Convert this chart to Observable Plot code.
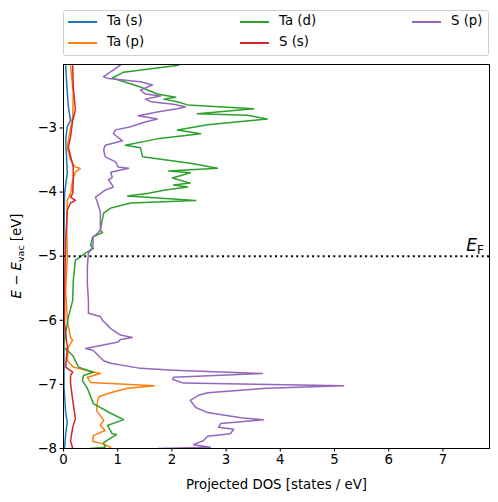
<!DOCTYPE html>
<html>
<head>
<meta charset="utf-8">
<script src="https://cdn.jsdelivr.net/npm/d3@7"></script>
<script src="https://cdn.jsdelivr.net/npm/@observablehq/plot@0.6"></script>
<style>
  html, body { margin: 0; padding: 0; background: #fff; }
  body { width: 498px; height: 502px; position: relative; font-family: "DejaVu Sans", sans-serif; }
  #legend { position: absolute; left: 63px; top: 10px; width: 424px; height: 44px; border: 1px solid #d0d0d0; border-radius: 3px; background: rgba(255,255,255,0.8); }
  .entry { position: absolute; font-size: 13.3px; color: #000; white-space: nowrap; }
  .swatch { position: absolute; height: 2px; width: 29px; }
  #chart { position: absolute; left: 0; top: 60px; }
</style>
</head>
<body>
<div id="legend"></div>
<div id="chart"></div>
<script>
// Series names and colours
const seriesNames = ["Ta (s)", "Ta (p)", "Ta (d)", "S (s)", "S (p)"];
const seriesColors = ["#1f77b4", "#ff7f0e", "#2ca02c", "#d62728", "#9467bd"];

// Ta (s)
const taS_E = [-2.03,-2.45,-2.67,-2.88,-2.98,-3.19,-3.70,-4.02,-4.91,-6.16,-7.05,-7.45,-7.59,-7.77,-8.0];
const taS_D = [0.04,0.07,0.09,0.13,0.07,0.04,0.07,0.02,0.005,0.01,0.01,0.04,0.07,0.04,0.02];

// Ta (p)
const taP_E = [-2.03,-2.45,-2.83,-3.19,-3.30,-3.50,-3.61,-3.63,-3.69,-3.81,-4.02,-4.13,-4.48,-5.02,-5.53,-6.0,-6.27,-6.31,-6.42,-6.63,-6.73,-6.78,-6.83,-6.89,-6.97,-7.02,-7.06,-7.13,-7.19,-7.25,-7.41,-7.56,-7.64,-7.72,-7.80,-7.89,-7.92,-7.98];
const taP_D = [0.13,0.18,0.17,0.09,0.07,0.13,0.22,0.31,0.22,0.17,0.13,0.07,0.06,0.07,0.04,0.07,0.13,0.17,0.09,0.07,0.18,0.41,0.68,0.44,0.50,1.68,1.18,0.87,0.66,0.63,0.61,0.74,0.68,0.77,0.55,0.54,0.70,0.87];

// Ta (d)
const taD_E = [-2.02,-2.13,-2.22,-2.36,-2.47,-2.52,-2.55,-2.59,-2.64,-2.70,-2.78,-2.80,-2.86,-2.95,-3.03,-3.09,-3.17,-3.27,-3.31,-3.45,-3.55,-3.63,-3.67,-3.70,-3.78,-3.86,-3.89,-3.92,-3.97,-4.02,-4.06,-4.13,-4.17,-4.22,-4.25,-4.33,-4.59,-4.63,-4.70,-4.83,-4.88,-4.95,-5.03,-5.06,-5.38,-5.69,-5.95,-6.20,-6.42,-6.47,-6.55,-6.73,-6.81,-6.86,-6.94,-7.02,-7.06,-7.30,-7.45,-7.55,-7.64,-7.77,-7.78,-7.84,-7.91,-7.98,-8.0];
const taD_D = [2.12,1.11,0.90,1.42,1.73,2.07,1.85,2.10,2.29,3.51,2.47,3.39,3.76,2.66,2.10,2.53,1.73,1.14,1.42,1.46,2.34,2.84,1.94,2.34,2.01,2.34,2.03,2.29,1.85,1.57,1.18,2.44,1.24,1.00,0.87,0.74,0.68,0.72,0.54,0.50,0.55,0.41,0.28,0.22,0.18,0.17,0.09,0.04,0.00,0.07,0.17,0.28,0.55,0.37,0.35,0.41,0.44,0.55,0.87,1.11,0.81,0.90,0.98,0.87,0.74,0.77,0.50];

// S (s)
const sS_E = [-2.03,-2.36,-2.72,-2.88,-3.14,-3.30,-3.61,-3.81,-4.02,-4.08,-4.13,-4.17,-4.28,-4.75,-5.53,-6.05,-6.42,-6.73,-6.81,-6.86,-6.98,-7.25,-7.53,-7.67,-7.88,-8.0];
const sS_D = [0.17,0.18,0.22,0.17,0.13,0.09,0.18,0.18,0.17,0.13,0.22,0.13,0.07,0.04,0.02,0.02,0.07,0.04,0.17,0.13,0.13,0.17,0.22,0.17,0.13,0.17];

// S (p)
const sP_E = [-2.02,-2.20,-2.23,-2.28,-2.33,-2.41,-2.47,-2.50,-2.55,-2.59,-2.63,-2.67,-2.70,-2.75,-2.81,-2.86,-2.92,-2.98,-3.03,-3.09,-3.20,-3.27,-3.34,-3.45,-3.53,-3.61,-3.63,-3.69,-3.77,-3.81,-3.92,-3.97,-4.08,-4.17,-4.31,-4.59,-4.64,-4.70,-4.86,-4.95,-5.17,-5.42,-5.69,-5.89,-5.94,-6.0,-6.13,-6.23,-6.27,-6.30,-6.34,-6.44,-6.47,-6.63,-6.67,-6.75,-6.78,-6.83,-6.89,-6.92,-6.98,-7.02,-7.06,-7.13,-7.17,-7.25,-7.36,-7.44,-7.52,-7.55,-7.61,-7.67,-7.70,-7.77,-7.81,-7.88,-7.94,-7.98,-8.0];
const sP_D = [1.05,0.74,0.83,1.42,1.64,1.42,1.51,1.79,1.51,1.61,2.03,2.25,2.10,1.73,1.38,1.73,1.46,1.24,0.96,0.92,1.09,0.77,0.74,0.77,0.96,1.01,1.20,0.87,0.90,0.83,0.92,0.77,0.59,0.63,0.68,0.68,0.63,0.55,0.54,0.46,0.44,0.44,0.46,0.46,0.68,0.72,0.87,1.05,1.27,1.05,1.01,0.41,0.55,0.74,0.87,1.42,2.03,3.67,2.03,2.01,2.21,5.17,3.76,2.66,2.49,2.34,2.44,2.66,3.27,3.69,2.90,2.86,3.14,3.08,2.66,2.58,2.40,2.71,1.75];

// Axis ticks and Fermi level
const xTicks = [0, 1, 2, 3, 4, 5, 6, 7];
const yTicks = [-8, -7, -6, -5, -4, -3];
const fermiLevel = [-5];

const seriesE = [taS_E, taP_E, taD_E, sS_E, sP_E];
const seriesD = [taS_D, taP_D, taD_D, sS_D, sP_D];

const rows = [];
seriesNames.forEach((name, i) => {
  seriesE[i].forEach((e, j) => rows.push({series: name, energy: e, dos: seriesD[i][j], order: j}));
});

const lineMarks = seriesNames.map((name, i) =>
  Plot.line(rows.filter(r => r.series === name), {
    x: "dos", y: "energy", stroke: seriesColors[i], strokeWidth: 1.5, clip: true
  })
);

const chart = Plot.plot({
  width: 498,
  height: 442,
  marginTop: 4,
  marginLeft: 63,
  marginRight: 9,
  marginBottom: 54,
  style: { fontFamily: "DejaVu Sans, sans-serif", fontSize: "13.3px", color: "#000", background: "transparent" },
  x: { domain: [0, 7.86] },
  y: { domain: [-8, -2.01] },
  marks: [
    ...lineMarks,
    Plot.ruleY(fermiLevel, { stroke: "#000", strokeWidth: 2, strokeDasharray: "2,3.3" }),
    Plot.frame({ stroke: "#000", strokeWidth: 1 }),
    Plot.axisX({ ticks: xTicks, tickSize: 3.5, tickPadding: 3, tickFormat: d3.format("d"), label: "Projected DOS [states / eV]", labelAnchor: "center", labelArrow: "none", labelOffset: 40 }),
    Plot.axisY({ ticks: yTicks, tickSize: 3.5, tickPadding: 3, tickFormat: d => d3.format("d")(d).replace("-", "\u2212"), label: null })
  ]
});
document.getElementById("chart").appendChild(chart);

// y-axis label with math formatting
const svg = d3.select(chart);
const yl = svg.append("text")
  .attr("transform", "translate(21,196) rotate(-90)")
  .attr("text-anchor", "middle")
  .attr("font-family", "DejaVu Sans, sans-serif")
  .attr("font-size", "13.3px")
  .attr("fill", "#000");
yl.append("tspan").attr("font-style", "italic").text("E");
yl.append("tspan").text(" \u2212 ");
yl.append("tspan").attr("font-style", "italic").text("E");
yl.append("tspan").attr("font-size", "9.5px").attr("dy", "3").text("vac");
yl.append("tspan").attr("dy", "-3").text(" [eV]");

// Fermi level label
const ef = svg.append("text")
  .attr("x", 484).attr("y", 191)
  .attr("text-anchor", "end")
  .attr("font-family", "DejaVu Sans, sans-serif")
  .attr("font-size", "17px")
  .attr("fill", "#000");
ef.append("tspan").attr("font-style", "italic").text("E");
ef.append("tspan").attr("font-size", "12px").attr("dy", "3").text("F");

// Legend
const legend = document.getElementById("legend");
const colX = [4, 176, 348];
seriesNames.forEach((name, i) => {
  const col = Math.floor(i / 2), row = i % 2;
  const sw = document.createElement("div");
  sw.className = "swatch";
  sw.style.background = seriesColors[i];
  sw.style.left = colX[col] + "px";
  sw.style.top = (11 + row * 21 - 1) + "px";
  legend.appendChild(sw);
  const t = document.createElement("div");
  t.className = "entry";
  t.textContent = name;
  t.style.left = (colX[col] + 39) + "px";
  t.style.top = (11 + row * 21 - 9) + "px";
  legend.appendChild(t);
});
</script>
</body>
</html>
